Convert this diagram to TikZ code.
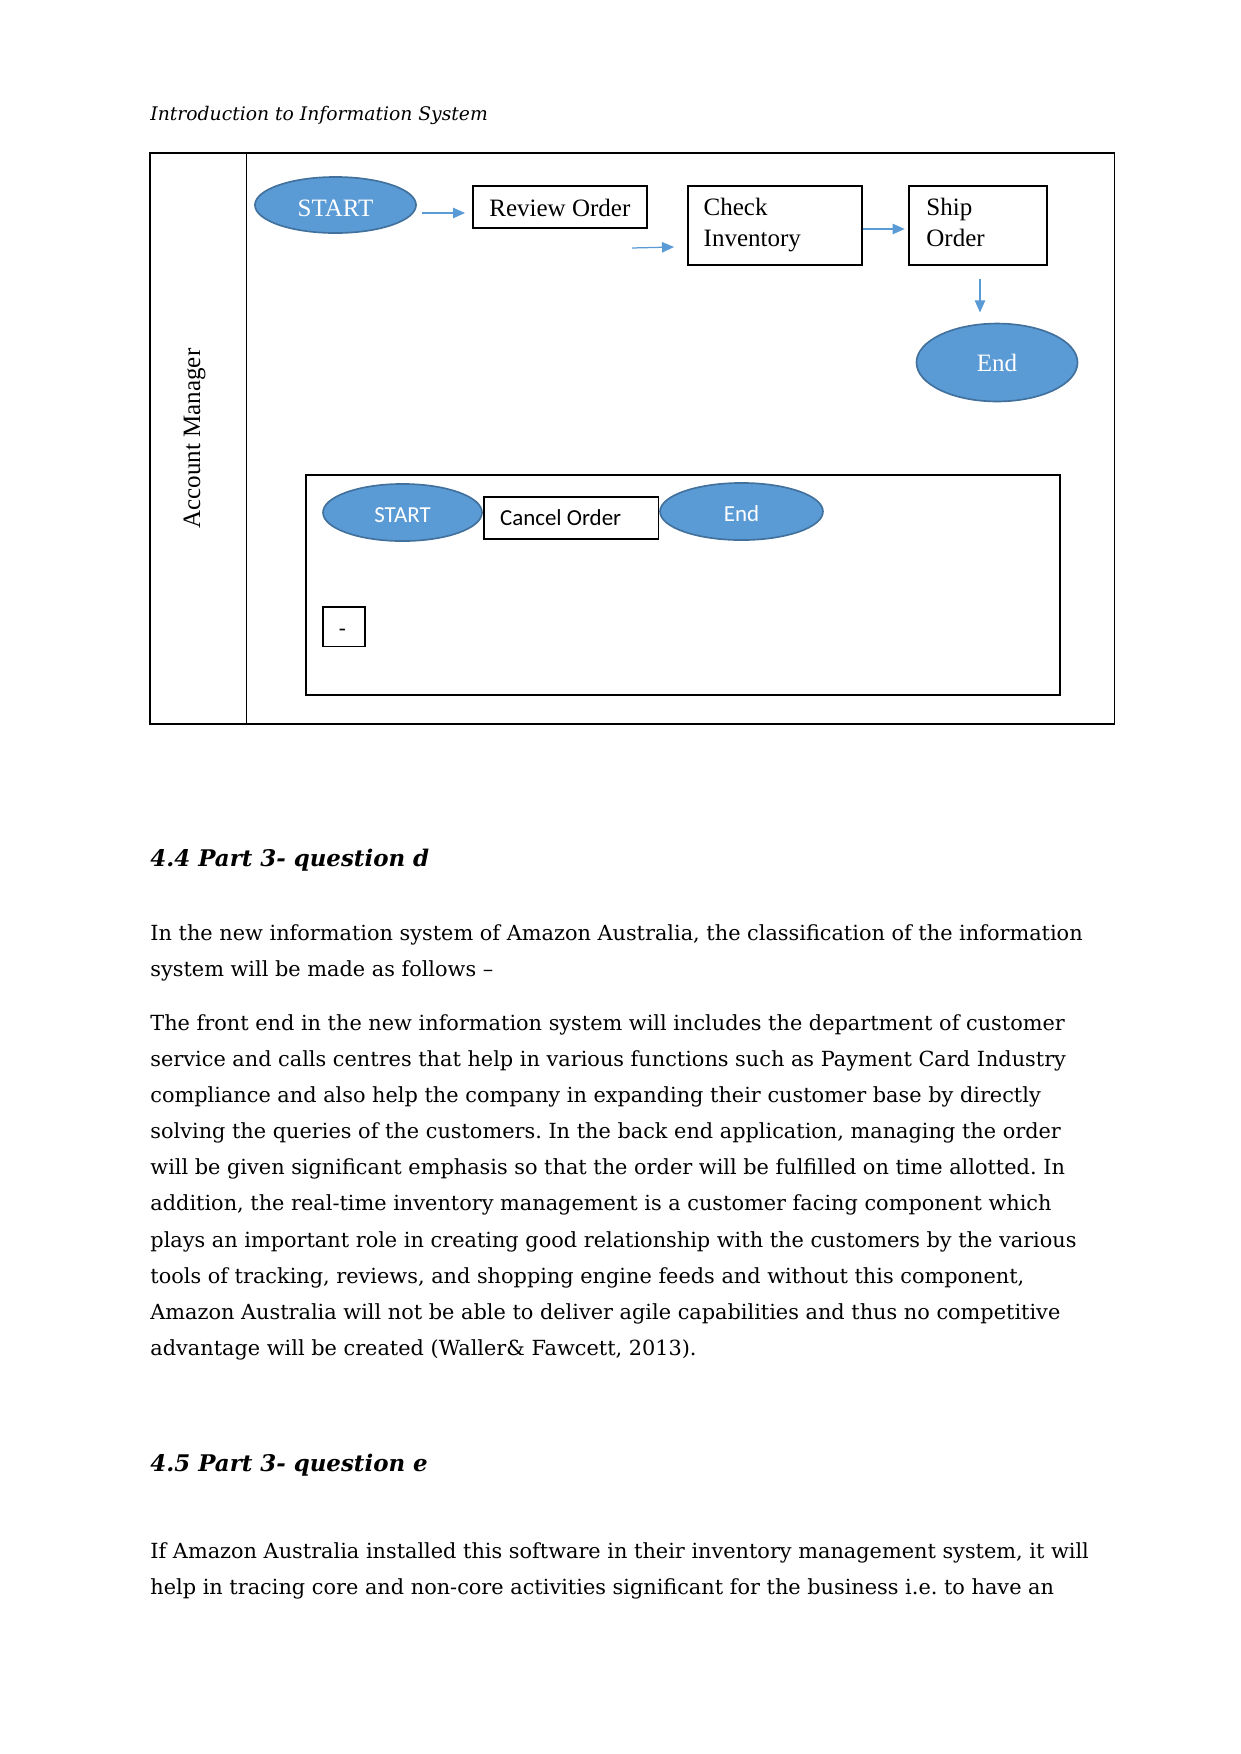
\documentclass[tikz,border=0pt]{standalone}
\usepackage{fontspec}
\setmainfont{DejaVu Serif}
\newfontfamily\timesf{Liberation Serif}
\newfontfamily\calibf{Carlito}
\usetikzlibrary{shapes.geometric,arrows.meta,calc}
\definecolor{wblue}{HTML}{5B9BD5}
\definecolor{wedge}{HTML}{41719C}
\frenchspacing
\begin{document}
\begin{tikzpicture}[x=0.48pt,y=-0.48pt,
  oval/.style={ellipse, fill=wblue, draw=wedge, line width=0.8pt, inner sep=0pt, text=white},
  stepbox/.style={rectangle, draw=black, line width=0.9pt, inner sep=0pt},
  frame/.style={rectangle, draw=black, line width=0.55pt, inner sep=0pt},
  flow/.style={draw=wblue, line width=0.6pt, -{Triangle[length=5.8pt,width=5pt]}},
  tt/.style={anchor=base west, inner sep=0pt, font=\timesf\fontsize{12}{14}\selectfont},
  body/.style={anchor=base west, inner sep=0pt, font=\fontsize{10}{12}\selectfont},
  headg/.style={anchor=base west, inner sep=0pt, font=\bfseries\itshape\fontsize{11}{13}\selectfont},
]
\useasboundingbox (0,0) rectangle (1241,1754);

% running header
\node[anchor=base west, inner sep=0pt, font=\itshape\fontsize{9}{11}\selectfont] (hdr) at (150,120) {Introduction to Information System};

% swimlane
\node[frame, minimum width=463.0pt, minimum height=274.1pt] (lane) at (632.25,438.5) {};
\node[frame, minimum width=46.3pt, minimum height=274.1pt] (lanehead) at (198.25,438.5) {};
\node[rotate=90, anchor=base, inner sep=0pt, font=\timesf\fontsize{12}{14}\selectfont] (lanename) at (200,438.5) {Account Manager};

% main flow
\node[oval, minimum width=77.3pt, minimum height=26.9pt, text height=10.6pt, text depth=0pt, font=\timesf\fontsize{12}{14}\selectfont] (startA) at (335.5,205) {START};
\node[stepbox, minimum width=83.5pt, minimum height=20.2pt] (review) at (560,207) {};
\node[tt] (reviewT) at (489,216) {Review Order};
\node[stepbox, minimum width=83.5pt, minimum height=38.2pt] (check) at (774.7,225.5) {};
\node[tt] (checkT1) at (703.3,215.7) {Check};
\node[tt] (checkT2) at (703.3,246.7) {Inventory};
\node[stepbox, minimum width=66.0pt, minimum height=38.2pt] (ship) at (978,225.5) {};
\node[tt] (shipT1) at (926,215.7) {Ship};
\node[tt] (shipT2) at (926,246.7) {Order};
\node[oval, minimum width=77.3pt, minimum height=37.4pt, font=\timesf\fontsize{12}{14}\selectfont] (endA) at (997,362.5) {End};

\draw[flow] ($(startA.east)+(5,8)$) -- ($(review.west)+(-7,6)$);
\draw[flow] ($(review.south east)+(-16,19)$) -- ($(check.west)+(-12.7,21.5)$);
\draw[flow] ($(check.east)+(0,3.5)$) -- ($(ship.west)+(-3.6,3.5)$);
\draw[flow] ($(ship.south)+(2,12.4)$) -- ($(endA.north)+(-17,-10.2)$);

% cancel sub-process
\node[frame, minimum width=361.9pt, minimum height=105.3pt] (cancelbox) at (683,585.35) {};
\draw[line width=1.1pt] (cancelbox.north west) -- (cancelbox.north east);
\node[oval, minimum width=76.3pt, minimum height=27.4pt, text height=9.8pt, text depth=0pt, font=\calibf\fontsize{11}{13}\selectfont] (startB) at (402.5,512.5) {START};
\node[stepbox, line width=0.7pt, minimum width=83.8pt, minimum height=20.2pt] (cancel) at (571.3,518) {};
\node[anchor=base west, inner sep=0pt, font=\calibf\fontsize{11}{13}\selectfont] (cancelT) at (499.7,525.7) {Cancel Order};
\node[oval, minimum width=78.2pt, minimum height=27.4pt, text height=9.8pt, text depth=0pt, font=\calibf\fontsize{11}{13}\selectfont] (endB) at (741.5,511.5) {End};
\node[stepbox, line width=0.7pt, minimum width=20.2pt, minimum height=19.1pt] (dashbox) at (344,626.85) {};
\node[anchor=base, inner sep=0pt, font=\calibf\fontsize{11}{13}\selectfont] (dashT) at (342.5,636) {-};

% section 4.4
\node[headg] (h44) at (150,866) {4.4 Part 3- question d};
\node[body] (pa1) at (150,940.7) {In the new information system of Amazon Australia, the classification of the information};
\node[body] (pa2) at (150,976.7) {system will be made as follows –};

\node[body] (pb1) at (150,1030.7) {The front end in the new information system will includes the department of customer};
\node[body] (pb2) at (150,1066.75) {service and calls centres that help in various functions such as Payment Card Industry};
\node[body] (pb3) at (150,1102.8) {compliance and also help the company in expanding their customer base by directly};
\node[body] (pb4) at (150,1138.85) {solving the queries of the customers. In the back end application, managing the order};
\node[body] (pb5) at (150,1174.9) {will be given significant emphasis so that the order will be fulfilled on time allotted. In};
\node[body] (pb6) at (150,1210.95) {addition, the real-time inventory management is a customer facing component which};
\node[body] (pb7) at (150,1247) {plays an important role in creating good relationship with the customers by the various};
\node[body] (pb8) at (150,1283.05) {tools of tracking, reviews, and shopping engine feeds and without this component,};
\node[body] (pb9) at (150,1319.1) {Amazon Australia will not be able to deliver agile capabilities and thus no competitive};
\node[body] (pb10) at (150,1355.4) {advantage will be created (Waller\& Fawcett, 2013).};

% section 4.5
\node[headg] (h45) at (150,1471.7) {4.5 Part 3- question e};
\node[body] (pc1) at (150,1558.3) {If Amazon Australia installed this software in their inventory management system, it will};
\node[body] (pc2) at (150,1594.3) {help in tracing core and non-core activities significant for the business i.e. to have an};
\end{tikzpicture}
\end{document}
